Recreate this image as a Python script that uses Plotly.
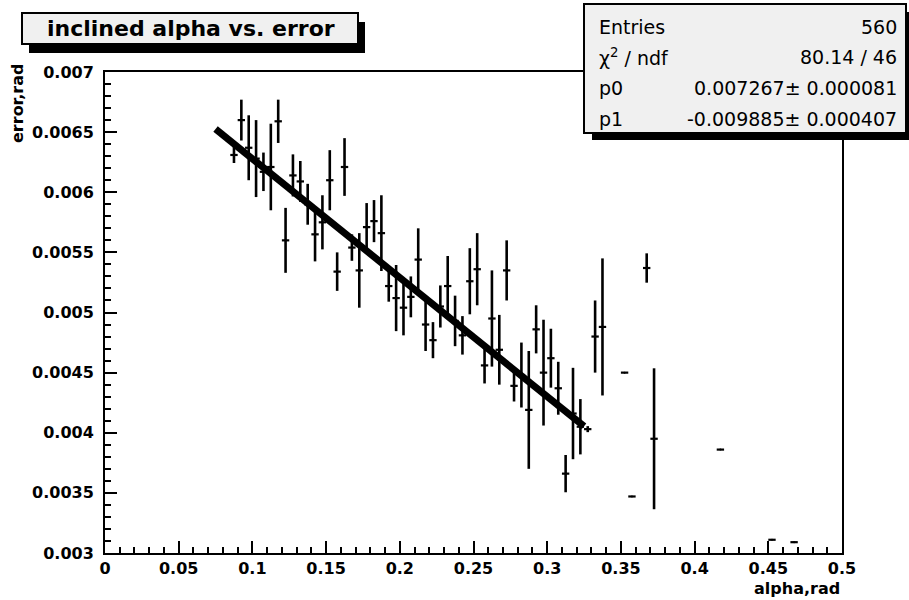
import plotly.graph_objects as go

# ---- data ----
alpha = [0.0875, 0.0925, 0.0975, 0.1025, 0.1075, 0.1125, 0.1175, 0.1225, 0.1275, 0.1325,
         0.1375, 0.1425, 0.1475, 0.1525, 0.1575, 0.1625, 0.1675, 0.1725, 0.1775, 0.1825,
         0.1875, 0.1925, 0.1975, 0.2025, 0.2075, 0.2125, 0.2175, 0.2225, 0.2275, 0.2325,
         0.2375, 0.2425, 0.2475, 0.2525, 0.2575, 0.2625, 0.2675, 0.2725, 0.2775, 0.2825,
         0.2875, 0.2925, 0.2975, 0.3025, 0.3075, 0.3125, 0.3175, 0.3225, 0.3275, 0.3325,
         0.3375, 0.3525, 0.3575, 0.3675, 0.3725, 0.4175, 0.4525, 0.4675]
error_val = [0.00631, 0.00660, 0.00637, 0.00628, 0.00617, 0.00621, 0.00659, 0.00560, 0.00614, 0.00609,
             0.00590, 0.00565, 0.00575, 0.00610, 0.00534, 0.00621, 0.00554, 0.00535, 0.00571, 0.00576,
             0.00566, 0.00522, 0.00512, 0.00504, 0.00513, 0.00544, 0.00490, 0.00477, 0.00505, 0.00522,
             0.00493, 0.00481, 0.00526, 0.00536, 0.00456, 0.00495, 0.00469, 0.00535, 0.00439, 0.00448,
             0.00419, 0.00486, 0.00450, 0.00462, 0.00437, 0.00366, 0.00416, 0.00405, 0.00403, 0.00480,
             0.00488, 0.00450, 0.00347, 0.00537, 0.00395, 0.00386, 0.00311, 0.00309]
error_err = [0.000067, 0.00017, 0.00027, 0.00032, 0.00016, 0.00036, 0.00018, 0.00027, 0.000175, 0.00017,
             0.00017, 0.000225, 0.000225, 0.00025, 0.00016, 0.00024, 0.00011, 0.00031, 0.00020, 0.000175,
             0.000315, 0.00013, 0.000275, 0.00023, 0.00017, 0.00026, 0.00022, 0.00015, 0.000175, 0.00025,
             0.00021, 0.00016, 0.000275, 0.00030, 0.00015, 0.00040, 0.00029, 0.00025, 0.00013, 0.00027,
             0.00049, 0.00020, 0.00044, 0.000245, 0.00022, 0.000155, 0.00038, 0.00023, 0.000025, 0.00030,
             0.00057, 0.0, 0.0, 0.000122, 0.000586, 0.0, 0.0, 0.0]
bin_half_width = 0.0025

# fit parameters (from the stats box)
p0 = 0.007267
p1 = -0.009885
fit_range = [0.075, 0.325]

x_ticks = [0, 0.05, 0.1, 0.15, 0.2, 0.25, 0.3, 0.35, 0.4, 0.45, 0.5]
x_ticklabels = ["0", "0.05", "0.1", "0.15", "0.2", "0.25", "0.3", "0.35", "0.4", "0.45", "0.5"]
y_ticks = [0.003, 0.0035, 0.004, 0.0045, 0.005, 0.0055, 0.006, 0.0065, 0.007]
y_ticklabels = ["0.003", "0.0035", "0.004", "0.0045", "0.005", "0.0055", "0.006", "0.0065", "0.007"]

stats_labels = ["Entries", "χ<sup>2</sup> / ndf", "p0", "p1"]
stats_values = ["560", "80.14 / 46", "0.007267± 0.000081", "-0.009885± 0.000407"]

title_text = "inclined alpha vs. error"
x_title = "alpha,rad"
y_title = "error,rad"

# ---- layout geometry (pixels) ----
W, H = 909, 600
L, R, T, B = 105, 842, 72, 553
FONT = "DejaVu Sans"


def px(xp):
    return (xp - L) / (R - L)


def py(yp):
    return (B - yp) / (B - T)


fig = go.Figure()

fig.add_trace(go.Scatter(
    x=alpha, y=error_val, mode="markers",
    marker=dict(size=2, color="black"),
    error_y=dict(type="data", array=error_err, visible=True, color="black", thickness=2.6, width=0),
    error_x=dict(type="constant", value=bin_half_width, visible=True, color="black", thickness=2.2, width=0),
    showlegend=False, hoverinfo="skip",
))

fit_y = [p0 + p1 * xv for xv in fit_range]
fig.add_trace(go.Scatter(
    x=fit_range, y=fit_y, mode="lines",
    line=dict(color="black", width=7),
    showlegend=False, hoverinfo="skip",
))

axis_common = dict(
    showgrid=False, zeroline=False, showline=True, linecolor="black", linewidth=2,
    mirror=True, ticks="inside", tickcolor="black", tickwidth=1.5, ticklen=12,
    tickfont=dict(family=FONT, size=16, color="black", weight="bold"),
)

fig.update_layout(
    width=W, height=H,
    margin=dict(l=L, r=W - R, t=T, b=H - B, pad=0),
    paper_bgcolor="white", plot_bgcolor="white",
    xaxis=dict(range=[0, 0.5], tickmode="array", tickvals=x_ticks, ticktext=x_ticklabels,
               minor=dict(tickmode="linear", tick0=0, dtick=0.01, ticks="inside", ticklen=6,
                          tickcolor="black", tickwidth=1.5, showgrid=False),
               ticklabelstandoff=0, **axis_common),
    yaxis=dict(range=[0.003, 0.007], tickmode="array", tickvals=y_ticks, ticktext=y_ticklabels,
               minor=dict(tickmode="linear", tick0=0.003, dtick=0.0001, ticks="inside", ticklen=6,
                          tickcolor="black", tickwidth=1.5, showgrid=False),
               ticklabelstandoff=6, **axis_common),
)

shapes = []
# title box with shadow
shapes.append(dict(type="rect", xref="paper", yref="paper", x0=px(29), x1=px(365), y0=py(22), y1=py(53),
                   fillcolor="black", line=dict(width=0), layer="above"))
shapes.append(dict(type="rect", xref="paper", yref="paper", x0=px(22), x1=px(358), y0=py(13), y1=py(44),
                   fillcolor="#f0f0f0", line=dict(color="black", width=2), layer="above"))
# stats box with shadow
shapes.append(dict(type="rect", xref="paper", yref="paper", x0=px(592), x1=px(915), y0=py(12), y1=py(140),
                   fillcolor="black", line=dict(width=0), layer="above"))
shapes.append(dict(type="rect", xref="paper", yref="paper", x0=px(584), x1=px(906), y0=py(4), y1=py(133),
                   fillcolor="#f0f0f0", line=dict(color="black", width=2), layer="above"))
fig.update_layout(shapes=shapes)

ann = []
ann.append(dict(text=title_text, xref="paper", yref="paper", x=px(191), y=py(28),
                xanchor="center", yanchor="middle", showarrow=False,
                font=dict(family=FONT, size=22, color="black", weight="bold")))
row_y = [27, 57, 88, 119]
for lab, val, yy in zip(stats_labels, stats_values, row_y):
    ann.append(dict(text=lab, xref="paper", yref="paper", x=px(597), y=py(yy),
                    xanchor="left", yanchor="middle", showarrow=False,
                    font=dict(family=FONT, size=19, color="black")))
    ann.append(dict(text=val, xref="paper", yref="paper", x=px(899), y=py(yy),
                    xanchor="right", yanchor="middle", showarrow=False,
                    font=dict(family=FONT, size=19, color="black")))
ann.append(dict(text=x_title, xref="paper", yref="paper", x=1.0, y=py(588),
                xanchor="right", yanchor="middle", showarrow=False,
                font=dict(family=FONT, size=16, color="black", weight="bold")))
ann.append(dict(text=y_title, xref="paper", yref="paper", x=px(17), y=py(104),
                xanchor="center", yanchor="middle", textangle=-90, showarrow=False,
                font=dict(family=FONT, size=16, color="black", weight="bold")))
fig.update_layout(annotations=ann)

fig.write_html("out.html")
